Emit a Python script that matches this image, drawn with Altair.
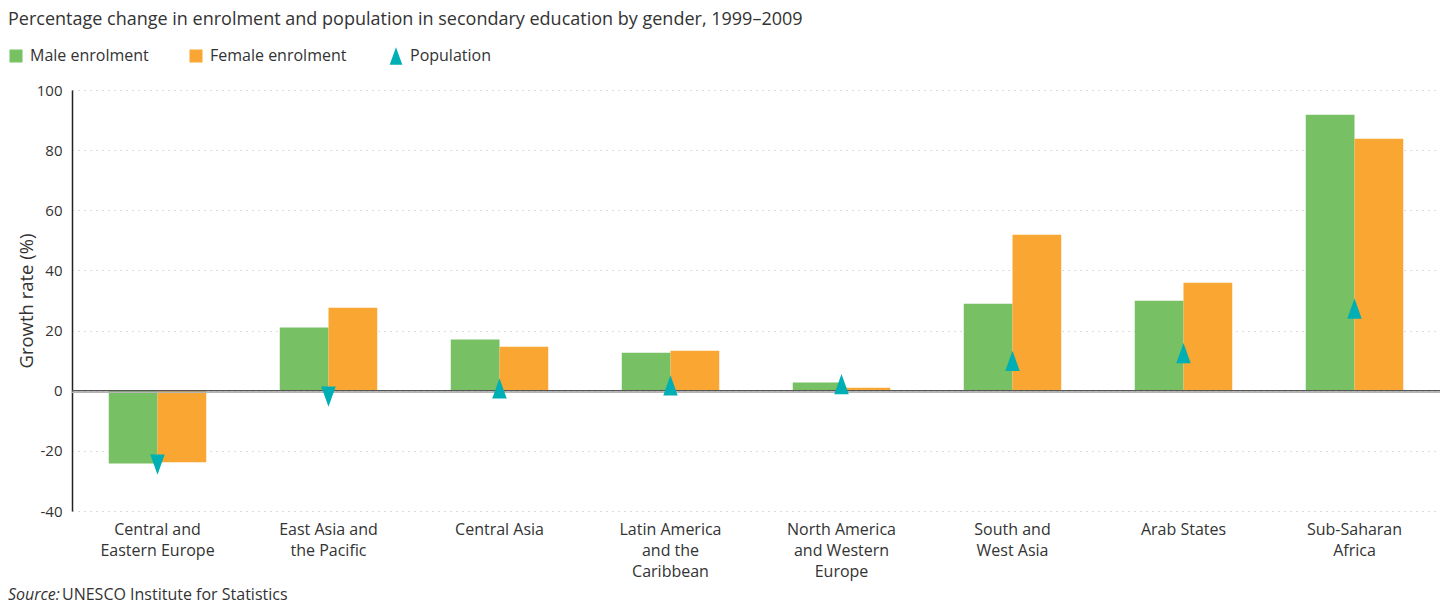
import altair as alt
import pandas as pd

FONT = "Open Sans"

categories = [
    "Central and\nEastern Europe",
    "East Asia and\nthe Pacific",
    "Central Asia",
    "Latin America\nand the\nCaribbean",
    "North America\nand Western\nEurope",
    "South and\nWest Asia",
    "Arab States",
    "Sub-Saharan\nAfrica",
]
male = [-24.2, 21.0, 17.0, 12.6, 2.7, 28.9, 29.9, 91.8]
female = [-23.8, 27.6, 14.6, 13.3, 1.0, 51.9, 35.9, 83.8]
population = [-24.6, -2.0, 0.8, 1.8, 2.2, 9.9, 12.5, 27.3]

series_names = ["Male enrolment", "Female enrolment", "Population"]
series_colors = ["#77C063", "#F9A633", "#00AFB4"]
y_ticks = [-40, -20, 0, 20, 40, 60, 80, 100]

title_text = "Percentage change in enrolment and population in secondary education by gender, 1999\u20132009"
y_title = "Growth rate (%)"
source_label = "Source:"
source_text = "UNESCO Institute for Statistics"

UP = "M0,-1.4L1,1.4L-1,1.4Z"
DOWN = "M0,1.4L1,-1.4L-1,-1.4Z"

bars_df = pd.DataFrame({
    "region": categories * 2,
    "series": [series_names[0]] * len(categories) + [series_names[1]] * len(categories),
    "value": male + female,
})
pop_df = pd.DataFrame({
    "region": categories,
    "series": [series_names[2]] * len(categories),
    "value": population,
})

x_enc = alt.X(
    "region:N",
    sort=categories,
    scale=alt.Scale(paddingInner=0.43, paddingOuter=0.215),
    axis=alt.Axis(
        title=None, labelAngle=0, domain=False, ticks=False, grid=False,
        labelExpr="split(datum.label, '\\n')",
        labelFont=FONT, labelFontSize=16, labelLineHeight=21, labelPadding=10,
        labelColor="#333333", labelOverlap=False, labelLimit=300,
    ),
)
y_enc = alt.Y(
    "value:Q",
    scale=alt.Scale(domain=[-40, 100], nice=False, zero=False),
    axis=alt.Axis(
        values=y_ticks, title=y_title, grid=True, gridDash=[1.2, 4.8],
        gridColor="#c4c4c4", gridWidth=1, ticks=False,
        domainColor="#222222", domainWidth=1.5,
        labelExpr="datum.value + ''",
        labelFont=FONT, labelFontSize=15, labelColor="#333333", labelPadding=10,
        titleFont=FONT, titleFontSize=18.5, titleFontWeight="normal",
        titleColor="#333333", titlePadding=0,
    ),
)

bars = alt.Chart(bars_df).mark_bar().encode(
    x=x_enc,
    y=y_enc,
    xOffset=alt.XOffset("series:N", sort=series_names[:2],
                        scale=alt.Scale(paddingInner=0, paddingOuter=0)),
    color=alt.Color(
        "series:N",
        scale=alt.Scale(domain=series_names[:2], range=series_colors[:2]),
        legend=alt.Legend(
            orient="none", legendX=-64, legendY=-42, direction="horizontal",
            title=None, symbolType="square", symbolSize=169, symbolStrokeWidth=0,
            labelFont=FONT, labelFontSize=16, labelColor="#333333",
            labelOffset=6, columnPadding=39, padding=0,
        ),
    ),
)

zero_light = alt.Chart(pd.DataFrame({"value": [0]})).mark_rule(
    color="#b5b5b5", strokeWidth=1.5, yOffset=1.5
).encode(y="value:Q")
zero_dark = alt.Chart(pd.DataFrame({"value": [0]})).mark_rule(
    color="#555555", strokeWidth=1.3
).encode(y="value:Q")

pop_up = alt.Chart(pop_df).transform_filter("datum.value >= 0").mark_point(
    filled=True, opacity=1, size=210, color=series_colors[2], strokeWidth=0
).encode(
    x=alt.X("region:N", sort=categories),
    y="value:Q",
    shape=alt.Shape(
        "series:N",
        scale=alt.Scale(domain=[series_names[2]], range=[UP]),
        legend=alt.Legend(
            orient="none", legendX=316, legendY=-42, title=None,
            symbolSize=160, symbolFillColor=series_colors[2], symbolStrokeWidth=0,
            labelFont=FONT, labelFontSize=16, labelColor="#333333",
            labelOffset=6, padding=0,
        ),
    ),
)
pop_down = alt.Chart(pop_df).transform_filter("datum.value < 0").mark_point(
    filled=True, opacity=1, size=210, color=series_colors[2], strokeWidth=0, shape=DOWN
).encode(
    x=alt.X("region:N", sort=categories),
    y="value:Q",
)

title_layer = alt.Chart(pd.DataFrame({"t": [title_text]})).mark_text(
    align="left", baseline="middle", font=FONT, fontSize=18, color="#333333"
).encode(x=alt.value(-64), y=alt.value(-70), text="t:N")

src1 = alt.Chart(pd.DataFrame({"t": [source_label]})).mark_text(
    align="left", baseline="middle", font=FONT, fontSize=16, fontStyle="italic", color="#333333"
).encode(x=alt.value(-64), y=alt.value(505), text="t:N")
src2 = alt.Chart(pd.DataFrame({"t": [source_text]})).mark_text(
    align="left", baseline="middle", font=FONT, fontSize=16, color="#333333"
).encode(x=alt.value(-10), y=alt.value(505), text="t:N")

chart = alt.layer(
    bars, zero_light, zero_dark, pop_up, pop_down, title_layer, src1, src2
).properties(
    width=1368, height=421,
    padding={"left": 0, "top": 3, "right": 0, "bottom": 3},
).configure_view(stroke=None)

chart.save("out.html", embed_options={"renderer": "svg", "actions": False})
